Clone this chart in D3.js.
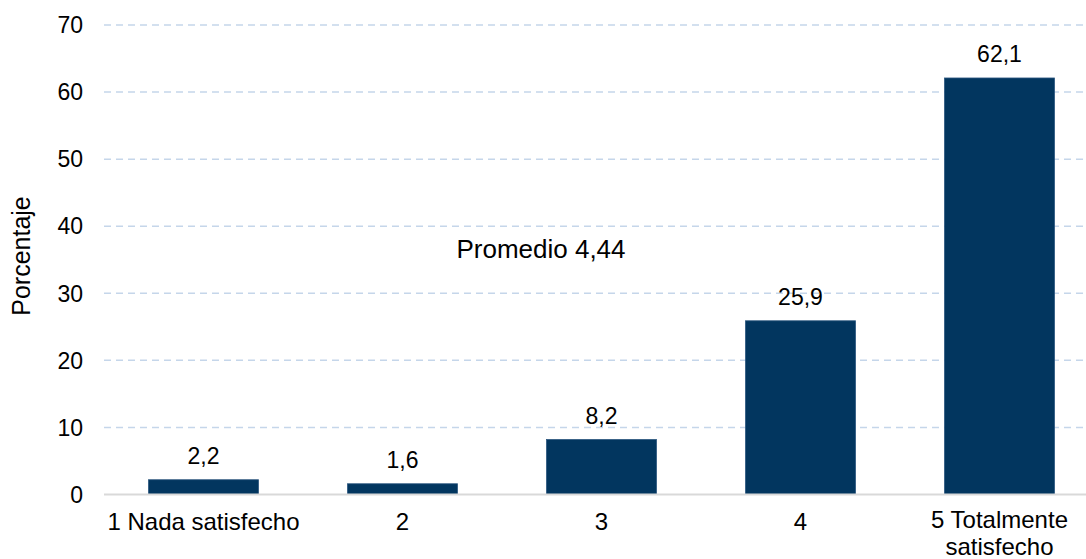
<!DOCTYPE html>
<html>
<head>
<meta charset="utf-8">
<script src="https://cdn.jsdelivr.net/npm/d3@7"></script>
<style>
  body { margin: 0; background: #fff; }
  text { font-family: "Liberation Sans", Arial, sans-serif; fill: #000; }
</style>
</head>
<body>
<div id="chart"></div>
<script>
// data
var categories = ["1 Nada satisfecho", "2", "3", "4", "5 Totalmente satisfecho"];
var values = [2.2, 1.6, 8.2, 25.9, 62.1];
var yTicks = [0, 10, 20, 30, 40, 50, 60, 70];
var yTitle = "Porcentaje";
var note = "Promedio 4,44";

var W = 1086, H = 559;
var plotLeft = 104, plotRight = 1099, plotTop = 25, plotBottom = 494.5;

var svg = d3.select("#chart")
  .append("svg")
    .attr("width", W)
    .attr("height", H);

// scales
var x = d3.scaleBand()
  .domain(categories)
  .range([plotLeft, plotRight])
  .paddingInner(0.447)
  .paddingOuter(0.2235);

var y = d3.scaleLinear()
  .domain([0, 70])
  .range([plotBottom, plotTop]);

// gridlines
svg.selectAll(".grid")
  .data(yTicks.filter(function(d) { return d > 0; }))
  .enter()
  .append("line")
    .attr("x1", plotLeft)
    .attr("x2", W)
    .attr("y1", function(d) { return y(d); })
    .attr("y2", function(d) { return y(d); })
    .attr("stroke", "#c5d6ea")
    .attr("stroke-width", 1.5)
    .attr("stroke-dasharray", "7,5");

// y tick labels
svg.selectAll(".ytick")
  .data(yTicks)
  .enter()
  .append("text")
    .attr("x", 83)
    .attr("y", function(d) { return y(d); })
    .attr("dy", "0.36em")
    .attr("text-anchor", "end")
    .style("font-size", "23px")
    .text(function(d) { return d; });

// y title
svg.append("text")
  .attr("transform", "translate(30,256) rotate(-90)")
  .attr("text-anchor", "middle")
  .style("font-size", "25px")
  .text(yTitle);

// bars
svg.selectAll(".bar")
  .data(values)
  .enter()
  .append("rect")
    .attr("x", function(d, i) { return x(categories[i]); })
    .attr("width", x.bandwidth())
    .attr("y", function(d) { return y(d); })
    .attr("height", function(d) { return y(0) - y(d); })
    .attr("fill", "#02365f")
    .attr("stroke", "#2c577f")
    .attr("stroke-width", 0.8);

// x axis line
svg.append("line")
  .attr("x1", plotLeft)
  .attr("x2", W)
  .attr("y1", y(0))
  .attr("y2", y(0))
  .attr("stroke", "#d9d9d9")
  .attr("stroke-width", 2);

// value labels
svg.selectAll(".val")
  .data(values)
  .enter()
  .append("text")
    .attr("x", function(d, i) { return x(categories[i]) + x.bandwidth() / 2; })
    .attr("y", function(d) { return y(d) - 16; })
    .attr("text-anchor", "middle")
    .style("font-size", "23px")
    .text(function(d) { return String(d).replace(".", ","); });

// category labels (wrap the last one into two lines)
categories.forEach(function(c) {
  var lines = c.length > 20 ? ["5 Totalmente", "satisfecho"] : [c];
  lines.forEach(function(l, j) {
    svg.append("text")
      .attr("x", x(c) + x.bandwidth() / 2)
      .attr("y", lines.length > 1 ? 528 + j * 27 : 530)
      .attr("text-anchor", "middle")
      .style("font-size", "24px")
      .text(l);
  });
});

// average note
svg.append("text")
  .attr("x", 541)
  .attr("y", 258)
  .attr("text-anchor", "middle")
  .style("font-size", "26px")
  .text(note);
</script>
</body>
</html>
